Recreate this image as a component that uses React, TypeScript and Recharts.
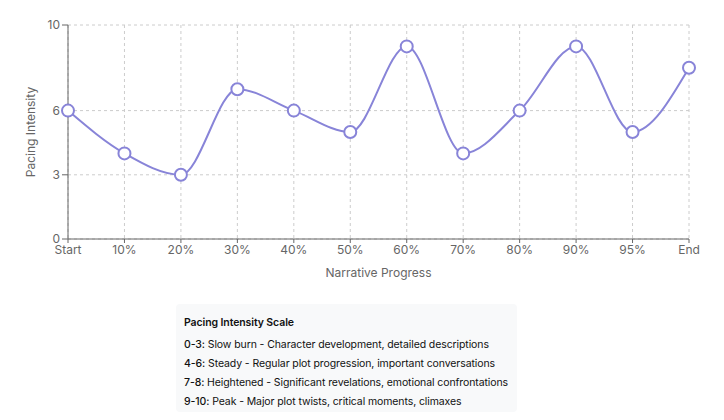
import React from "react";
import { LineChart, Line, XAxis, YAxis, CartesianGrid } from "recharts";

const stages = ["Start", "10%", "20%", "30%", "40%", "50%", "60%", "70%", "80%", "90%", "95%", "End"];
const intensity = [6, 4, 3, 7, 6, 5, 9, 4, 6, 9, 5, 8];
const yTicks = [0, 3, 6, 10];
const scaleTitle = "Pacing Intensity Scale";
const scaleRanges = ["0-3:", "4-6:", "7-8:", "9-10:"];
const scaleTexts = [
  "Slow burn - Character development, detailed descriptions",
  "Steady - Regular plot progression, important conversations",
  "Heightened - Significant revelations, emotional confrontations",
  "Peak - Major plot twists, critical moments, climaxes",
];

const data = stages.map((s, i) => ({ stage: s, intensity: intensity[i] }));

export default function App() {
  const font = "Inter, 'Noto Sans', sans-serif";
  return (
    <div style={{ fontFamily: font }}>
      <LineChart width={700} height={290} data={data} margin={{ top: 17, right: 19, left: 0, bottom: 19 }}>
        <CartesianGrid strokeDasharray="3 3" stroke="#ccc" />
        <XAxis
          dataKey="stage"
          height={40}
          tick={{ fontSize: 12, fill: "#666", fontFamily: font }}
          tickSize={4}
          stroke="#666"
          label={{ value: "Narrative Progress", position: "insideBottom", offset: 2, fontSize: 12, fill: "#666", fontFamily: font }}
        />
        <YAxis
          domain={[0, 10]}
          ticks={yTicks}
          width={60}
          tick={{ fontSize: 12, fill: "#666", fontFamily: font }}
          stroke="#666"
          label={{ value: "Pacing Intensity", angle: -90, position: "insideLeft", offset: 23, fontSize: 12, fill: "#666", fontFamily: font, style: { textAnchor: "middle" } }}
        />
        <Line
          type="monotone"
          dataKey="intensity"
          stroke="#8884d8"
          strokeWidth={2}
          dot={{ r: 6, fill: "#fff", stroke: "#8884d8", strokeWidth: 2 }}
          isAnimationActive={false}
        />
      </LineChart>
      <div
        style={{
          marginLeft: 168,
          marginTop: 6,
          width: 341,
          height: 108,
          boxSizing: "border-box",
          background: "#f8f9fa",
          borderRadius: 4,
          padding: "12px 8px 8px 8px",
          fontSize: 10.5,
          color: "#111",
          whiteSpace: "nowrap",
          letterSpacing: -0.1,
        }}
      >
        <div style={{ fontWeight: 600, marginBottom: 5, lineHeight: "14px" }}>{scaleTitle}</div>
        {scaleRanges.map((r, i) => (
          <div key={r} style={{ lineHeight: "19px" }}>
            <span style={{ fontWeight: 500 }}>{r}</span> {scaleTexts[i]}
          </div>
        ))}
      </div>
    </div>
  );
}
